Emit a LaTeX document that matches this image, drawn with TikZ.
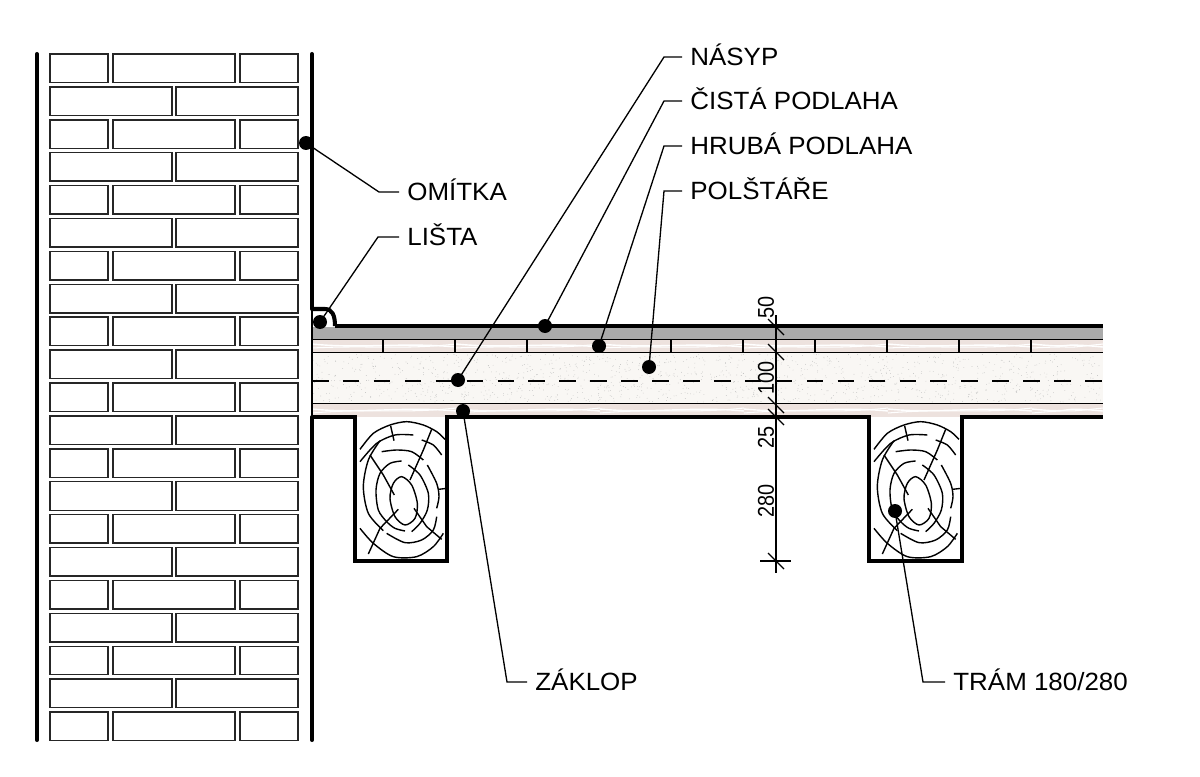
\documentclass[tikz,border=0pt]{standalone}
\usepackage{fontspec}
\setmainfont{Liberation Sans}
\newfontfamily\tagfont[FakeStretch=1.04]{Liberation Sans}
\newfontfamily\dimfont[FakeStretch=0.87]{Liberation Sans}
\usetikzlibrary{positioning, calc}

\definecolor{plankpink}{HTML}{EDE2DE}
\definecolor{fillsand}{HTML}{F9F7F4}
\definecolor{screedgray}{HTML}{ABABAB}

% tree rings, drawn in a local grid of one third of a pixel
\newcommand{\woodgrain}[1]{
    \begin{scope}[shift={(#1, 417)}, xshift=-0.3cm, yshift=0.34cm, x=0.00667cm, y=-0.00667cm, line width=0.8pt]
        \draw plot[smooth] coordinates {(60,148) (100,100) (150,75) (200,65) (250,75) (290,95) (315,118)};
        \draw plot[smooth] coordinates {(60,185) (110,130) (165,105) (220,105)};
        \draw plot[smooth] coordinates {(245,120) (280,135) (305,165)};
        \draw plot[smooth] coordinates {(120,122) (85,180) (70,260) (85,340) (130,392)};
        \draw plot[smooth] coordinates {(60,385) (100,430) (160,470) (230,470) (280,440) (310,400)};
        \draw plot[smooth] coordinates {(125,155) (170,150) (215,155) (250,180)};
        \draw plot[smooth] coordinates {(185,183) (150,190) (120,220) (108,270) (115,330) (140,365) (165,385) (195,393)};
        \draw plot[smooth] coordinates {(205,195) (240,225) (265,280) (262,330) (240,370) (215,395)};
        \draw plot[smooth] coordinates {(262,195) (290,250) (297,290) (290,325)};
        \draw plot[smooth] coordinates {(290,350) (280,390) (245,420) (195,428) (140,400)};
        \draw plot[smooth cycle] coordinates {(185,230) (160,250) (150,295) (165,350) (195,375) (225,355) (232,310) (215,255)};
        % radial cracks
        \draw (152,78) -- (162,122);
        \draw (275,88) -- (250,150) -- (210,240);
        \draw (90,165) -- (130,225) -- (163,285);
        \draw (175,328) -- (120,385) -- (85,462);
        \draw (222,325) -- (260,380) -- (305,418);
        \draw (295,268) -- (322,265);
    \end{scope}
}

\begin{document}
\begin{tikzpicture}[
    x=0.02cm, y=-0.02cm,
    brick/.style={line width=0.8pt, draw=black!85},
    thinline/.style={line width=0.75pt},
    heavyline/.style={line width=2.3pt},
    leader/.style={line width=0.75pt},
    pin/.style={circle, fill=black, inner sep=0pt, minimum size=0.28cm},
    tag/.style={anchor=west, inner xsep=0.16cm, inner ysep=0pt, text height=10pt, text depth=0pt, font=\tagfont\fontsize{14.2}{16}\selectfont},
    dimtext/.style={rotate=90, inner sep=0pt, font=\dimfont\fontsize{13}{15}\selectfont}
]
    \useasboundingbox (0, 0) rectangle (1200, 777);

    % Brick wall
    \foreach \row in {0, 2, ..., 20} {
        \pgfmathsetmacro{\ytop}{54 + 32.9*\row}
        \draw[brick] (50, \ytop) rectangle (108, \ytop + 28.5);
        \draw[brick] (113, \ytop) rectangle (235, \ytop + 28.5);
        \draw[brick] (240, \ytop) rectangle (298, \ytop + 28.5);
    }
    \foreach \row in {1, 3, ..., 19} {
        \pgfmathsetmacro{\ytop}{54 + 32.9*\row}
        \draw[brick] (50, \ytop) rectangle (172, \ytop + 28.5);
        \draw[brick] (176, \ytop) rectangle (298, \ytop + 28.5);
    }

    % Plaster
    \draw[heavyline, line cap=round] (37, 54) -- (37, 740);
    \draw[heavyline, line cap=round] (312, 54) -- (312, 309);
    \draw[heavyline, line cap=round] (312, 417) -- (312, 740);

    % Floor layers
    \fill[screedgray] (312, 327) rectangle (1103, 339);
    \fill[plankpink] (312, 340) rectangle (1103, 352);
    \fill[fillsand] (312, 353) rectangle (1103, 403);
    \fill[plankpink] (312, 404) rectangle (1103, 417);

    % Grain in the boards
    \foreach \xstart in {312, 456, 600, 744, 888, 1032} {
        \pgfmathsetmacro{\xstop}{min(\xstart + 144, 1103)}
        \draw[white, line width=0.8pt] (\xstart, 344) .. controls (\xstart+50, 349) and (\xstop-54, 342) .. (\xstop, 347);
        \draw[white, line width=0.6pt] (\xstart, 348) .. controls (\xstart+60, 345) and (\xstop-54, 350) .. (\xstop, 344);
        \draw[white, line width=0.8pt] (\xstart, 409) .. controls (\xstart+50, 414) and (\xstop-54, 406) .. (\xstop, 411);
        \draw[white, line width=0.6pt] (\xstart, 413) .. controls (\xstart+60, 408) and (\xstop-54, 414) .. (\xstop, 408);
    }

    % Sand grains
    \pgfmathsetseed{7}
    \foreach \grain in {1, ..., 1300} {
        \pgfmathsetmacro{\gx}{313 + 789*rnd}
        \pgfmathsetmacro{\gy}{354 + 48*rnd}
        \fill[black!30] (\gx, \gy) circle (0.35);
    }

    % Floor lines
    \draw[thinline] (312, 309) -- (312, 417);
    \draw[thinline] (312, 339.5) -- (1103, 339.5);
    \draw[thinline] (312, 352.5) -- (1103, 352.5);
    \draw[thinline] (312, 403.5) -- (1103, 403.5);
    \draw[line width=0.7pt, dash pattern=on 9.4pt off 8.2pt] (312, 381) -- (1103, 381);
    \foreach \xjoint in {383, 455, ..., 1031} {
        \draw[thinline] (\xjoint, 340) -- (\xjoint, 352);
    }
    \draw[heavyline] (335, 326) -- (1103, 326);

    % Skirting strip
    \draw[heavyline, line join=round] (312, 309) -- (325, 309) .. controls (332, 309) and (335, 315) .. (335, 326);

    % Joists
    \draw[heavyline, line join=miter] (312, 417) -- (355, 417) -- (355, 561) -- (447, 561) -- (447, 417) -- (869, 417) -- (869, 561) -- (962, 561) -- (962, 417) -- (1103, 417);
    \woodgrain{355}
    \woodgrain{869}

    % Dimension line
    \coordinate (dimtop) at (776, 315);
    \coordinate (dimend) at (776, 573);
    \draw[thinline] (dimtop) -- (dimend);
    \foreach \ytick in {327, 352, 405, 417, 561} {
        \draw[thinline] (768, \ytick - 8) -- (784, \ytick + 8);
    }
    \draw[thinline] (760, 561) -- (791, 561);
    \node[dimtext] (dimA) at (766, 307) {50};
    \node[dimtext] (dimB) at (766, 378) {100};
    \node[dimtext] (dimC) at (766, 437) {25};
    \node[dimtext] (dimD) at (766, 501) {280};

    % Labels
    \node[tag] (nasyp) at (682, 57) {NÁSYP};
    \node[tag] (cista) at (682, 101) {ČISTÁ PODLAHA};
    \node[tag] (hruba) at (682, 146) {HRUBÁ PODLAHA};
    \node[tag] (polstare) at (682, 191) {POLŠTÁŘE};
    \node[tag] (omitka) at (399, 192) {OMÍTKA};
    \node[tag] (lista) at (399, 237) {LIŠTA};
    \node[tag] (zaklop) at (527, 682) {ZÁKLOP};
    \node[tag] (tram) at (945, 682) {TRÁM 180/280};

    % Pins
    \node[pin] (pinNasyp) at (458, 380) {};
    \node[pin] (pinCista) at (545, 326) {};
    \node[pin] (pinHruba) at (599, 346) {};
    \node[pin] (pinPolstare) at (649, 367) {};
    \node[pin] (pinOmitka) at (306, 143) {};
    \node[pin] (pinLista) at (320, 322) {};
    \node[pin] (pinZaklop) at (463, 411) {};
    \node[pin] (pinTram) at (895, 511) {};

    % Leaders
    \coordinate (bendNasyp) at (664, 57);
    \coordinate (bendCista) at (664, 101);
    \coordinate (bendHruba) at (664, 146);
    \coordinate (bendPolstare) at (664, 191);
    \coordinate (bendOmitka) at (379, 192);
    \coordinate (bendLista) at (378, 237);
    \coordinate (bendZaklop) at (507, 682);
    \coordinate (bendTram) at (923, 682);
    \foreach \item/\lbl in {Nasyp/nasyp, Cista/cista, Hruba/hruba, Polstare/polstare, Omitka/omitka, Lista/lista, Zaklop/zaklop, Tram/tram} {
        \draw[leader] (pin\item.center) -- (bend\item) -- (\lbl.west);
    }
\end{tikzpicture}
\end{document}
